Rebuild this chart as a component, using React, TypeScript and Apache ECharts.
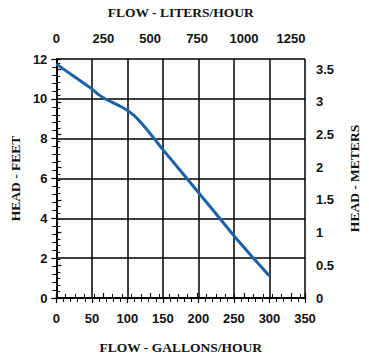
import React, { useEffect, useRef } from "react";
import * as echarts from "echarts";

const flowGph = [0, 25, 50, 60, 70, 80, 90, 100, 110, 120, 130, 140, 150, 175, 200, 225, 250, 275, 300];
const headFeet = [11.75, 11.12, 10.5, 10.2, 9.98, 9.8, 9.63, 9.42, 9.15, 8.78, 8.35, 7.9, 7.45, 6.38, 5.3, 4.22, 3.13, 2.1, 1.1];
const gphTicks = { min: 0, max: 350, interval: 50 };
const feetTicks = { min: 0, max: 12, interval: 2 };
const LITERS_PER_GALLON = 3.78541;
const METERS_PER_FOOT = 0.3048;

const labelFont = { fontFamily: "Liberation Sans, Arial, sans-serif", fontWeight: "bold" as const, fontSize: 13, color: "#111" };
const titleFont = { fontFamily: "Liberation Serif, Times New Roman, serif", fontWeight: "bold" as const, fontSize: 13.5, color: "#111" };
const plain = (v: number) => String(Math.round(v * 100) / 100);

export default function App() {
  const ref = useRef<HTMLDivElement>(null);
  useEffect(() => {
    if (!ref.current) return;
    const chart = echarts.init(ref.current, undefined, { renderer: "svg" });
    const line = { lineStyle: { color: "#000", width: 1.5 } };
    const tick = { show: true, length: 5, lineStyle: { color: "#000", width: 1.2 } };
    const minor = { show: true, splitNumber: 5, length: 4, lineStyle: { color: "#000", width: 1 } };
    chart.setOption({
      animation: false,
      backgroundColor: "#fff",
      grid: { left: 52, right: 60, top: 54, bottom: 60 },
      xAxis: [
        {
          type: "value", position: "bottom", min: gphTicks.min, max: gphTicks.max, interval: gphTicks.interval,
          axisLine: { show: true, ...line }, axisTick: tick, minorTick: minor,
          splitLine: { show: true, lineStyle: { color: "#000", width: 1.5 } },
          axisLabel: { ...labelFont, margin: 14, formatter: plain },
          name: "FLOW - GALLONS/HOUR", nameLocation: "middle", nameGap: 42, nameTextStyle: titleFont,
        },
        {
          type: "value", position: "top", min: 0, max: gphTicks.max * LITERS_PER_GALLON, interval: 250,
          axisLine: { show: true, ...line }, axisTick: tick, minorTick: minor,
          splitLine: { show: false },
          axisLabel: { ...labelFont, margin: 14, showMaxLabel: false, formatter: plain },
          name: "FLOW - LITERS/HOUR", nameLocation: "middle", nameGap: 40, nameTextStyle: titleFont,
        },
      ],
      yAxis: [
        {
          type: "value", position: "left", min: feetTicks.min, max: feetTicks.max, interval: feetTicks.interval,
          axisLine: { show: true, ...line }, axisTick: tick, minorTick: minor,
          splitLine: { show: true, lineStyle: { color: "#000", width: 1.5 } },
          axisLabel: { ...labelFont, margin: 9, formatter: plain },
          name: "HEAD - FEET", nameLocation: "middle", nameGap: 31, nameRotate: 90, nameTextStyle: titleFont,
        },
        {
          type: "value", position: "right", min: 0, max: feetTicks.max * METERS_PER_FOOT, interval: 0.5,
          axisLine: { show: true, ...line }, axisTick: tick, minorTick: minor,
          splitLine: { show: false },
          axisLabel: { ...labelFont, margin: 11, showMaxLabel: false, formatter: plain },
          name: "HEAD - METERS", nameLocation: "middle", nameGap: 42, nameRotate: 90, nameTextStyle: titleFont,
        },
      ],
      series: [
        {
          type: "line", xAxisIndex: 0, yAxisIndex: 0, showSymbol: false, smooth: 0.3,
          data: flowGph.map((g, i) => [g, headFeet[i]]),
          lineStyle: { color: "#1b63a6", width: 3 },
        },
      ],
    });
    return () => chart.dispose();
  }, []);
  return <div ref={ref} style={{ position: "absolute", left: 0, top: 0, width: 369, height: 359 }} />;
}
